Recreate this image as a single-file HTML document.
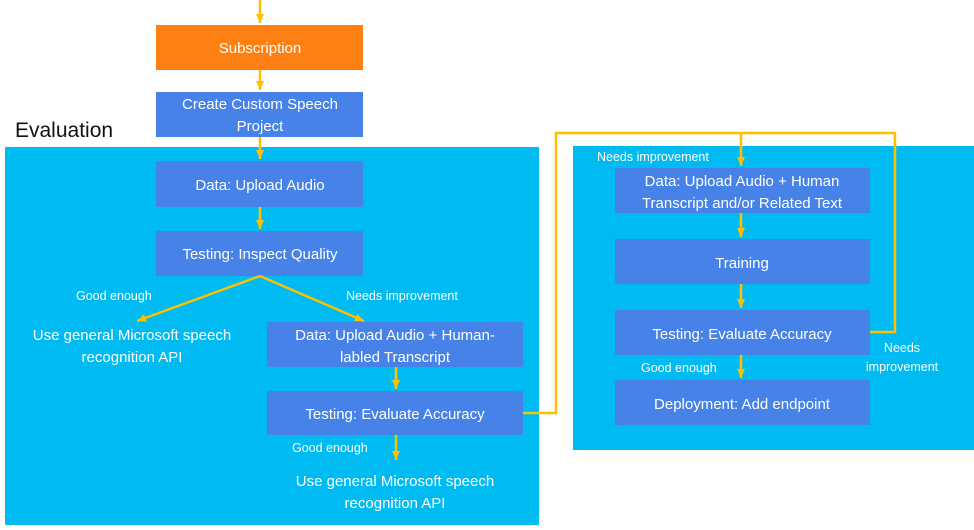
<!DOCTYPE html>
<html><head><meta charset="utf-8"><style>
body{margin:0;width:974px;height:525px;background:#fff;overflow:hidden;font-family:"Liberation Sans",sans-serif}
</style></head><body>
<svg width="974" height="525" xmlns="http://www.w3.org/2000/svg" font-family="Liberation Sans, sans-serif">
<defs>
<marker id="h" markerWidth="10" markerHeight="10" refX="9" refY="5" orient="auto" markerUnits="userSpaceOnUse"><path d="M0,1 L9,5 L0,9 z" fill="#ffc000"/></marker></defs>
<rect x="5" y="147" width="534" height="378" fill="#00bbf1"/>
<rect x="573" y="146" width="401" height="304" fill="#00bbf1"/>
<text x="15" y="137" font-size="21" fill="#111">Evaluation</text>
<g fill="#4682e8">
<rect x="156" y="92" width="207" height="45"/>
<rect x="156" y="161" width="207" height="46"/>
<rect x="156" y="231" width="207" height="45"/>
<rect x="267" y="322" width="256" height="45"/>
<rect x="267" y="391" width="256" height="44"/>
<rect x="615" y="168" width="255" height="45"/>
<rect x="615" y="239" width="255" height="45"/>
<rect x="615" y="310" width="255" height="45"/>
<rect x="615" y="380" width="255" height="45"/>
</g>
<rect x="156" y="25" width="207" height="45" fill="#ff8012"/>
<g stroke="#ffc000" stroke-width="2.5" fill="none">
<line x1="260" y1="0" x2="260" y2="23" marker-end="url(#h)"/>
<line x1="260" y1="70" x2="260" y2="90" marker-end="url(#h)"/>
<line x1="260" y1="137" x2="260" y2="159" marker-end="url(#h)"/>
<line x1="260" y1="207" x2="260" y2="229" marker-end="url(#h)"/>
<polyline points="260,276 137,321" marker-end="url(#h)"/>
<polyline points="260,276 364,321" marker-end="url(#h)"/>
<line x1="396" y1="367" x2="396" y2="389" marker-end="url(#h)"/>
<line x1="396" y1="435" x2="396" y2="460" marker-end="url(#h)"/>
<polyline points="523,413 556,413 556,133 741,133 741,166" marker-end="url(#h)"/>
<polyline points="870,332 895,332 895,133 741,133"/>
<line x1="741" y1="213" x2="741" y2="237" marker-end="url(#h)"/>
<line x1="741" y1="284" x2="741" y2="308" marker-end="url(#h)"/>
<line x1="741" y1="355" x2="741" y2="378" marker-end="url(#h)"/>
</g>
<g fill="#fff" font-size="15" text-anchor="middle">
<text x="260" y="53">Subscription</text>
<text x="260" y="109">Create Custom Speech</text>
<text x="260" y="131">Project</text>
<text x="260" y="190">Data: Upload Audio</text>
<text x="260" y="259">Testing: Inspect Quality</text>
<text x="395" y="340">Data: Upload Audio + Human-</text>
<text x="395" y="362">labled Transcript</text>
<text x="395" y="419">Testing: Evaluate Accuracy</text>
<text x="132" y="340">Use general Microsoft speech</text>
<text x="132" y="362">recognition API</text>
<text x="395" y="486">Use general Microsoft speech</text>
<text x="395" y="508">recognition API</text>
<text x="742" y="186">Data: Upload Audio + Human</text>
<text x="742" y="208">Transcript and/or Related Text</text>
<text x="742" y="268">Training</text>
<text x="742" y="339">Testing: Evaluate Accuracy</text>
<text x="742" y="409">Deployment: Add endpoint</text>
</g>
<g fill="#fff" font-size="12.5">
<text x="76" y="300">Good enough</text>
<text x="346" y="300">Needs improvement</text>
<text x="292" y="452">Good enough</text>
<text x="597" y="161">Needs improvement</text>
<text x="641" y="372">Good enough</text>
<text x="902" y="352" text-anchor="middle">Needs</text>
<text x="902" y="371" text-anchor="middle">improvement</text>
</g>
</svg>
</body></html>
